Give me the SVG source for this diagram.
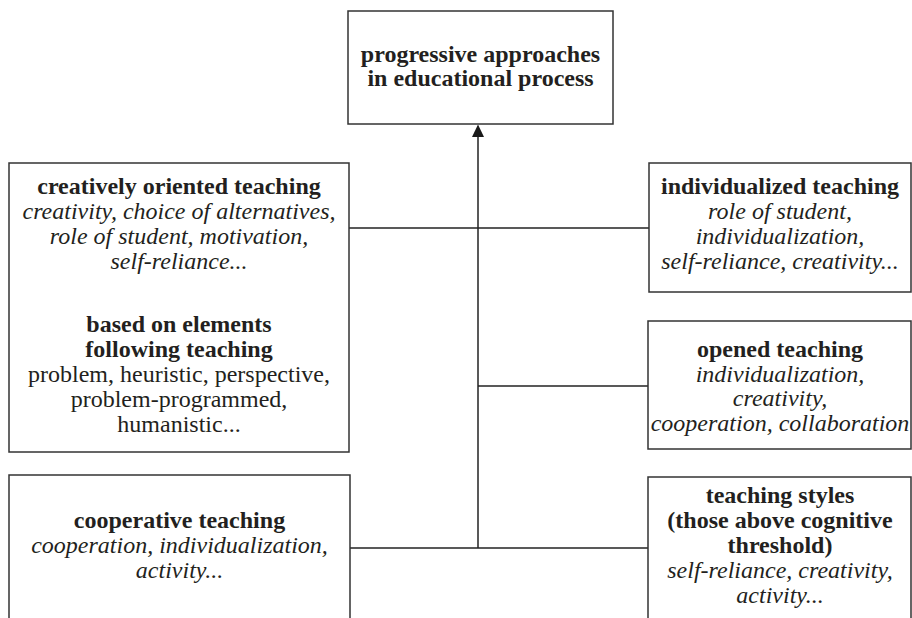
<svg xmlns="http://www.w3.org/2000/svg" width="912" height="618" viewBox="0 0 912 618">
<defs>
<style>
.box{fill:#fff;stroke:#333;stroke-width:1.5}
.ln{fill:none;stroke:#222;stroke-width:1.5}
.ah{fill:#1a1a1a;stroke:none}
text{font-family:"Liberation Serif","Times New Roman",serif;font-size:24px;fill:#231f20;text-anchor:middle}
.b{font-weight:bold}
.i{font-style:italic}
</style>
</defs>
<rect width="912" height="618" fill="#fff"/>
<g id="connectors">
<line class="ln" x1="478" y1="548" x2="478" y2="134"/>
<polygon class="ah" points="478,124.5 484,137 472,137"/>
<line class="ln" x1="349" y1="228" x2="649" y2="228"/>
<line class="ln" x1="478" y1="386" x2="648" y2="386"/>
<line class="ln" x1="350" y1="548" x2="648" y2="548"/>
</g>
<g id="top">
<rect class="box" x="348" y="11" width="265" height="113"/>
<text class="b" x="480.5" y="62">progressive approaches</text>
<text class="b" x="480.5" y="86">in educational process</text>
</g>
<g id="creative">
<rect class="box" x="9" y="163" width="340" height="289"/>
<text class="b" x="179" y="194">creatively oriented teaching</text>
<text class="i" x="179" y="219">creativity, choice of alternatives,</text>
<text class="i" x="179" y="244">role of student, motivation,</text>
<text class="i" x="179" y="269">self-reliance...</text>
<text class="b" x="179" y="332">based on elements</text>
<text class="b" x="179" y="357">following teaching</text>
<text x="179" y="382">problem, heuristic, perspective,</text>
<text x="179" y="407">problem-programmed,</text>
<text x="179" y="432">humanistic...</text>
</g>
<g id="individualized">
<rect class="box" x="649" y="163" width="262" height="129"/>
<text class="b" x="780" y="194">individualized teaching</text>
<text class="i" x="780" y="219">role of student,</text>
<text class="i" x="780" y="244">individualization,</text>
<text class="i" x="780" y="269">self-reliance, creativity...</text>
</g>
<g id="opened">
<rect class="box" x="648" y="321" width="263" height="128"/>
<text class="b" x="780" y="357">opened teaching</text>
<text class="i" x="780" y="382">individualization,</text>
<text class="i" x="780" y="406">creativity,</text>
<text class="i" x="780" y="431">cooperation, collaboration</text>
</g>
<g id="cooperative">
<path class="box" d="M9,620 V475 H350 V620"/>
<text class="b" x="179.5" y="528">cooperative teaching</text>
<text class="i" x="179.5" y="553">cooperation, individualization,</text>
<text class="i" x="179.5" y="578">activity...</text>
</g>
<g id="styles">
<path class="box" d="M648,620 V477 H911 V620"/>
<text class="b" x="780" y="503">teaching styles</text>
<text class="b" x="780" y="528">(those above cognitive</text>
<text class="b" x="780" y="553">threshold)</text>
<text class="i" x="780" y="578">self-reliance, creativity,</text>
<text class="i" x="780" y="603">activity...</text>
</g>
</svg>
